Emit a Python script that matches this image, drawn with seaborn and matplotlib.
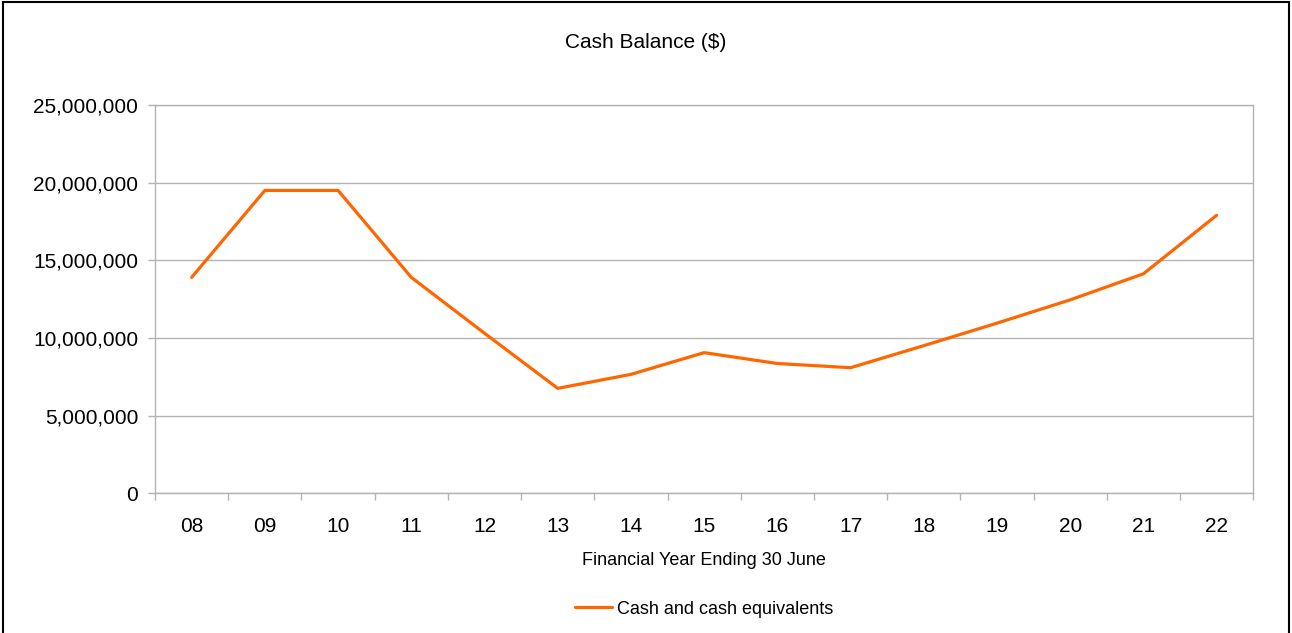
import matplotlib.pyplot as plt
import matplotlib.ticker as mticker
import numpy as np
import pandas as pd
import seaborn as sns

# chart data
years = ["08", "09", "10", "11", "12", "13", "14", "15", "16", "17", "18", "19", "20", "21", "22"]
cash = [13900000, 19500000, 19500000, 13900000, 10300000, 6750000, 7650000, 9050000,
        8350000, 8080000, 9500000, 10950000, 12450000, 14130000, 17900000]
series_name = "Cash and cash equivalents"

sns.set_theme(style="white")
plt.rcParams["font.family"] = ["Liberation Sans", "DejaVu Sans"]
plt.rcParams["text.color"] = "black"
plt.rcParams["xtick.labelcolor"] = "black"
plt.rcParams["ytick.labelcolor"] = "black"

df = pd.DataFrame({"pos": np.arange(len(years)), "Cash": cash, "Series": series_name})

fig = plt.figure(figsize=(12.92, 6.33), dpi=100)
ax = fig.add_axes([0.12, 0.221, 0.85, 0.613])

sns.lineplot(data=df, x="pos", y="Cash", hue="Series", palette=["#ff6600"],
             linewidth=2.3, ax=ax)

# axes limits and grid
ax.set_xlim(-0.5, len(years) - 0.5)
ax.set_ylim(0, 25000000)
ax.yaxis.set_major_locator(mticker.MultipleLocator(5000000))
ax.yaxis.set_major_formatter(mticker.FuncFormatter(lambda v, p: f"{int(v):,}"))
ax.grid(axis="y", color="#b3b3b3", linewidth=1)
ax.set_axisbelow(True)

# category labels at centres, tick marks between categories
ax.set_xticks(np.arange(len(years)))
ax.set_xticklabels(years)
ax.set_xticks(np.arange(len(years) + 1) - 0.5, minor=True)
ax.tick_params(axis="x", which="major", length=0, pad=17, labelsize=15, labelcolor="black")
ax.tick_params(axis="x", which="minor", length=5, width=1, color="#b3b3b3", direction="out", bottom=True)
ax.tick_params(axis="y", length=5, width=1, color="#b3b3b3", pad=7, labelsize=15,
               labelcolor="black", left=True)

for s in ax.spines.values():
    s.set_color("#b3b3b3")
    s.set_linewidth(1)

fig.text(0.5, 1 - 42 / 633, "Cash Balance ($)", fontsize=15, ha="center", va="center", color="black")
ax.set_xlabel("Financial Year Ending 30 June", fontsize=13, labelpad=12, color="black")
ax.set_ylabel("")

leg = ax.legend(loc="upper center", bbox_to_anchor=(0.5, -0.235), frameon=False,
                fontsize=13, handlelength=2.05, handletextpad=0.25)
for t in leg.get_texts():
    t.set_color("black")

# outer border of the chart
fig.add_artist(plt.Rectangle((0.0025, -0.01), 0.9955, 1.0068, transform=fig.transFigure,
                             fill=False, edgecolor="black", linewidth=1.5))

fig.savefig("out.png", dpi=100)
